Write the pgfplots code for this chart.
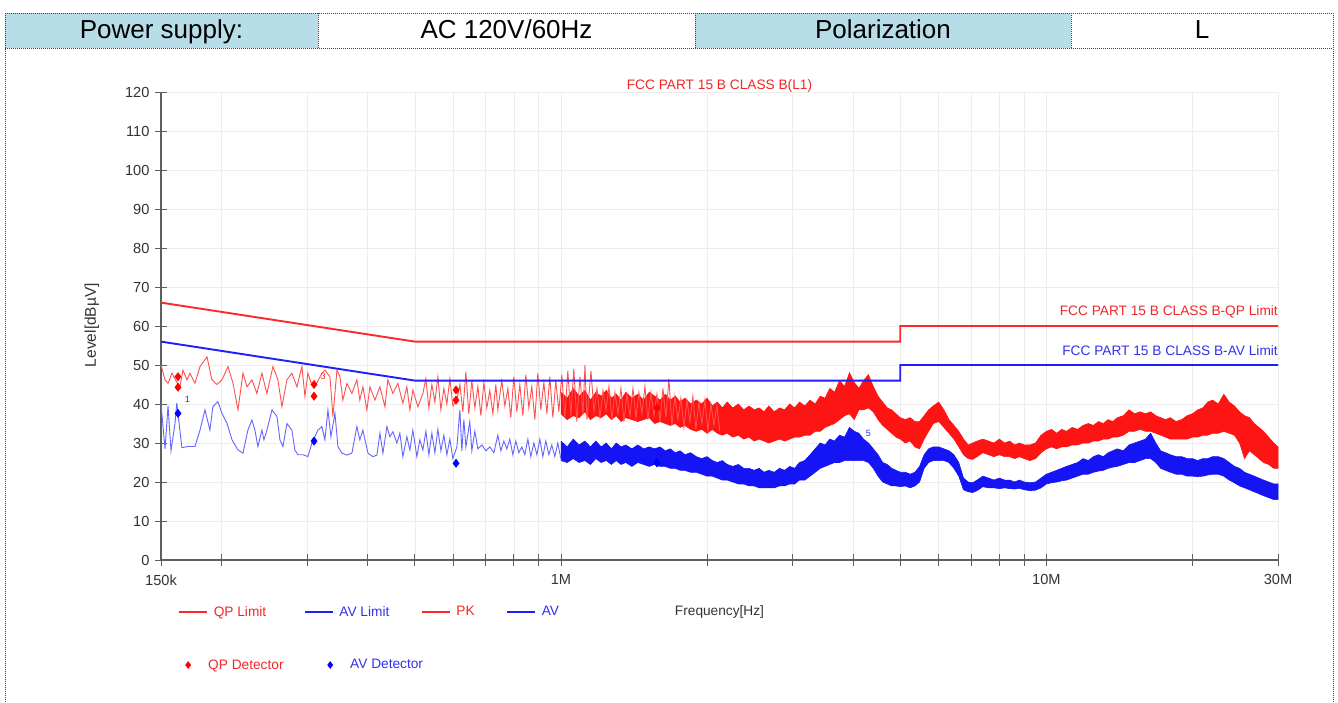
\documentclass[border=0pt]{standalone}
\usepackage{fontspec}
\setmainfont{Liberation Sans}
\usepackage{pgfplots}
\pgfplotsset{compat=1.18}
\usepackage{pgfplotstable}

\definecolor{hdrblue}{RGB}{183,221,232}
\definecolor{pkred}{RGB}{255,20,20}
\definecolor{pklow}{RGB}{255,80,80}
\definecolor{avblue}{RGB}{20,20,245}
\definecolor{avlow}{RGB}{100,100,255}
\definecolor{axgray}{RGB}{95,95,95}
\definecolor{limred}{RGB}{255,40,40}
\definecolor{limblue}{RGB}{30,30,255}
\definecolor{txtred}{RGB}{240,40,40}
\definecolor{txtblue}{RGB}{50,50,235}
\newcommand\cf{\fontsize{13.7}{16}\selectfont}
\newcommand\tf{\fontsize{14.6}{17}\selectfont}

% PK trace, low-frequency part (MHz, dBuV)
\pgfplotstableread{
f y
0.1500 50.0
0.1529 46.2
0.1551 45.3
0.1580 47.9
0.1610 46.0
0.1641 44.5
0.1665 48.7
0.1697 46.2
0.1721 47.9
0.1762 45.3
0.1805 49.6
0.1866 52.1
0.1910 46.2
0.1956 45.0
0.2003 46.2
0.2061 49.6
0.2111 45.3
0.2161 38.5
0.2213 47.9
0.2256 44.4
0.2309 46.2
0.2364 42.7
0.2421 47.9
0.2479 42.7
0.2551 49.6
0.2612 46.2
0.2662 39.3
0.2726 46.2
0.2791 47.9
0.2858 44.4
0.2927 49.6
0.2969 41.9
0.3011 47.9
0.3055 45.5
0.3128 45.0
0.3218 47.9
0.3264 48.7
0.3343 47.0
0.3391 36.8
0.3456 48.7
0.3505 47.0
0.3555 41.0
0.3623 45.3
0.3710 42.7
0.3799 46.2
0.3853 41.0
0.3909 44.4
0.3983 38.5
0.4041 44.4
0.4138 41.0
0.4237 44.4
0.4339 39.3
0.4400 46.2
0.4506 42.7
0.4614 45.3
0.4725 40.2
0.4815 44.4
0.4884 38.5
0.4954 43.6
0.5073 39.3
0.5195 42.7
0.5269 46.5
0.5345 39.0
0.5421 45.0
0.5499 40.5
0.5578 47.0
0.5658 38.5
0.5739 44.0
0.5821 40.0
0.5904 46.5
0.5989 39.5
0.6104 41.0
0.6191 45.0
0.6280 38.0
0.6370 48.2
0.6460 37.5
0.6553 46.0
0.6647 39.0
0.6743 44.5
0.6840 37.0
0.6938 45.5
0.7037 39.0
0.7137 43.5
0.7240 37.5
0.7343 45.0
0.7413 38.5
0.7555 46.0
0.7664 39.5
0.7773 44.0
0.7885 36.5
0.7998 47.0
0.8112 38.0
0.8228 45.0
0.8346 37.0
0.8466 47.5
0.8587 39.0
0.8710 44.5
0.8835 36.0
0.8962 48.0
0.9090 38.5
0.9221 45.5
0.9353 37.5
0.9486 47.0
0.9623 36.5
0.9760 46.0
0.9899 38.0
1.0041 47.5
1.0185 36.5
1.0332 48.5
1.0480 37.0
1.0630 49.0
1.0783 35.5
1.0944 47.0
1.1102 37.5
1.1207 50.0
1.1314 36.0
1.1531 48.5
1.1696 38.0
1.1864 44.0
1.2033 36.5
1.2206 43.5
1.2381 38.5
1.2557 44.5
1.2737 36.0
1.2920 43.0
1.3105 37.5
1.3293 44.0
1.3484 35.5
1.3677 42.5
1.3872 37.0
1.4072 44.0
1.4273 36.5
1.4476 43.0
1.4683 37.5
1.4894 44.5
1.5108 36.0
1.5324 43.0
1.5544 37.0
1.5767 42.5
1.5992 35.5
1.6222 44.0
1.6454 36.5
1.6689 46.5
1.6927 34.5
1.7170 42.0
1.7417 36.0
1.7666 41.5
1.7920 34.0
1.8176 41.0
1.8436 35.5
1.8701 42.0
1.8969 33.5
1.9240 40.5
1.9515 35.0
1.9795 41.0
2.0079 33.0
2.0367 40.0
2.0659 34.5
2.0955 39.5
2.1254 33.0
}\pklowtab

% AV trace, low-frequency part
\pgfplotstableread{
f y
0.1500 40.0
0.1529 28.5
0.1551 39.5
0.1573 28.0
0.1603 35.0
0.1617 40.3
0.1656 28.8
0.1705 29.1
0.1762 29.1
0.1805 33.3
0.1848 38.5
0.1892 33.3
0.1919 39.3
0.1965 40.6
0.2003 37.6
0.2052 35.0
0.2101 30.8
0.2161 28.2
0.2213 27.4
0.2265 33.3
0.2309 35.9
0.2342 33.3
0.2375 29.1
0.2421 33.3
0.2444 30.8
0.2479 33.3
0.2539 38.5
0.2600 36.8
0.2637 30.8
0.2675 29.1
0.2726 35.0
0.2791 33.3
0.2831 28.2
0.2872 27.0
0.2941 27.0
0.3011 26.5
0.3069 30.0
0.3158 33.3
0.3218 34.2
0.3264 30.8
0.3311 38.5
0.3359 31.6
0.3423 37.6
0.3472 29.1
0.3538 27.4
0.3623 26.9
0.3710 27.4
0.3799 34.2
0.3853 30.8
0.3909 33.3
0.4003 27.4
0.4099 26.5
0.4178 26.9
0.4237 32.5
0.4298 27.4
0.4380 34.2
0.4442 31.6
0.4506 32.9
0.4592 30.0
0.4658 32.5
0.4725 26.5
0.4815 31.6
0.4884 28.2
0.4954 33.3
0.5049 26.5
0.5121 30.8
0.5195 28.2
0.5269 33.0
0.5345 27.0
0.5421 32.5
0.5499 27.5
0.5578 33.5
0.5658 28.0
0.5739 32.0
0.5821 27.0
0.5904 31.0
0.5989 26.0
0.6104 29.0
0.6191 38.5
0.6250 28.0
0.6310 36.0
0.6370 29.0
0.6491 35.5
0.6553 28.0
0.6647 33.0
0.6743 28.5
0.6872 29.5
0.7004 28.0
0.7137 29.0
0.7274 27.5
0.7413 32.0
0.7520 28.0
0.7628 30.5
0.7737 28.5
0.7847 31.0
0.7960 27.0
0.8074 30.5
0.8189 27.5
0.8306 29.0
0.8425 27.0
0.8547 31.0
0.8669 26.5
0.8794 30.0
0.8920 27.0
0.9047 31.0
0.9177 26.5
0.9308 30.5
0.9441 27.0
0.9576 29.5
0.9714 26.5
0.9852 30.0
0.9994 26.0
}\avlowtab

% PK trace, dense part: upper edge (1 -> 30 MHz), then lower edge (30 -> 1 MHz)
\pgfplotstableread{
f y
1.00 43.0
1.03 41.5
1.06 44.0
1.09 42.0
1.12 43.5
1.15 41.0
1.18 43.0
1.21 42.0
1.24 43.5
1.27 41.5
1.30 42.5
1.33 41.0
1.36 43.0
1.40 41.5
1.44 42.5
1.48 41.0
1.52 43.0
1.56 42.0
1.60 41.0
1.64 42.5
1.68 41.0
1.72 42.0
1.76 40.5
1.80 41.5
1.85 40.0
1.90 41.0
1.95 40.0
2.00 41.5
2.05 39.5
2.10 40.5
2.15 39.0
2.20 40.5
2.26 39.0
2.32 40.0
2.38 38.5
2.44 39.5
2.50 38.5
2.56 39.0
2.62 38.0
2.68 39.5
2.75 38.0
2.82 39.0
2.89 38.5
2.96 40.0
3.03 39.0
3.10 40.5
3.18 39.5
3.26 41.0
3.34 40.0
3.42 42.0
3.50 41.5
3.58 44.0
3.66 43.0
3.75 46.0
3.84 44.5
3.93 48.0
4.02 45.5
4.11 44.0
4.20 46.0
4.30 47.5
4.40 44.5
4.50 42.0
4.60 40.5
4.70 39.0
4.80 38.5
4.90 37.5
5.00 36.5
5.12 36.0
5.24 36.5
5.36 35.5
5.48 35.5
5.60 37.0
5.72 38.5
5.85 39.5
6.00 40.5
6.15 38.5
6.30 36.0
6.45 34.5
6.60 33.0
6.75 31.0
6.90 29.5
7.05 30.0
7.20 30.5
7.40 31.0
7.60 30.5
7.80 30.0
8.00 31.0
8.20 30.0
8.40 30.5
8.60 29.5
8.80 30.0
9.00 29.5
9.25 29.5
9.50 30.0
9.75 32.0
10.0 33.0
10.25 33.5
10.5 32.5
10.75 33.5
11.0 33.0
11.3 34.0
11.6 33.5
11.9 34.5
12.2 35.0
12.5 34.5
12.8 35.5
13.1 35.0
13.4 36.0
13.7 35.5
14.0 36.5
14.4 37.0
14.8 38.5
15.2 37.5
15.6 38.0
16.0 37.5
16.4 38.0
16.8 37.0
17.2 36.5
17.6 36.0
18.0 36.5
18.5 35.5
19.0 36.0
19.5 37.0
20.0 37.5
20.5 38.5
21.0 39.0
21.5 40.5
22.0 41.0
22.6 40.0
23.2 42.5
23.8 40.5
24.4 39.5
25.0 38.0
25.6 37.0
26.2 36.5
26.8 35.0
27.4 34.0
28.0 33.0
28.7 31.5
29.4 30.0
30.0 29.0
30.0 23.5
29.4 23.5
28.7 24.5
28.0 25.0
27.4 26.0
26.8 27.0
26.2 28.0
25.6 26.0
25.0 30.0
24.4 32.0
23.8 32.5
23.2 33.0
22.6 32.5
22.0 32.5
21.5 32.0
21.0 32.0
20.5 31.5
20.0 31.5
19.5 31.0
19.0 31.0
18.5 31.0
18.0 31.0
17.6 31.5
17.2 32.0
16.8 32.5
16.4 33.0
16.0 33.0
15.6 33.5
15.2 33.0
14.8 33.0
14.4 32.0
14.0 31.5
13.7 31.5
13.4 31.0
13.1 31.0
12.8 30.5
12.5 30.5
12.2 30.0
11.9 30.0
11.6 29.5
11.3 29.5
11.0 29.0
10.75 29.0
10.5 28.5
10.25 29.0
10.0 28.5
9.75 27.5
9.50 26.0
9.25 25.5
9.00 26.0
8.80 26.5
8.60 26.0
8.40 26.5
8.20 26.5
8.00 27.0
7.80 26.5
7.60 27.0
7.40 27.5
7.20 26.5
7.05 25.8
6.90 26.0
6.75 27.0
6.60 29.0
6.45 31.0
6.30 32.5
6.15 34.0
6.00 35.5
5.85 35.0
5.72 33.0
5.60 31.0
5.48 28.5
5.36 29.0
5.24 30.5
5.12 30.0
5.00 31.0
4.90 31.5
4.80 32.5
4.70 33.5
4.60 34.5
4.50 36.0
4.40 38.0
4.30 39.0
4.20 38.5
4.11 38.5
4.02 36.0
3.93 37.5
3.84 37.0
3.75 36.0
3.66 35.0
3.58 34.5
3.50 34.0
3.42 33.0
3.34 33.0
3.26 32.0
3.18 32.0
3.10 31.5
3.03 31.5
2.96 31.0
2.89 30.5
2.82 31.0
2.75 30.5
2.68 30.0
2.62 30.5
2.56 31.0
2.50 30.5
2.44 31.5
2.38 31.0
2.32 32.0
2.26 31.5
2.20 32.5
2.15 32.0
2.10 32.5
2.05 33.5
2.00 32.5
1.95 33.5
1.90 33.0
1.85 33.5
1.80 34.5
1.76 34.0
1.72 35.0
1.68 34.5
1.64 35.0
1.60 35.5
1.56 35.0
1.52 36.5
1.48 36.0
1.44 35.5
1.40 36.0
1.36 36.5
1.33 35.5
1.30 37.0
1.27 36.0
1.24 37.5
1.21 36.5
1.18 37.0
1.15 36.0
1.12 38.0
1.09 36.5
1.06 37.0
1.03 36.0
1.00 37.5
}\pkband

% AV trace, dense part: upper edge, then lower edge
\pgfplotstableread{
f y
1.00 30.5
1.03 29.0
1.06 31.0
1.09 29.5
1.12 30.5
1.15 29.0
1.18 30.5
1.21 29.0
1.24 30.0
1.27 28.5
1.30 30.0
1.33 29.0
1.36 29.5
1.40 28.5
1.44 29.5
1.48 28.5
1.52 29.0
1.56 28.5
1.60 29.0
1.64 28.0
1.68 28.5
1.72 27.5
1.76 28.0
1.80 27.0
1.85 27.5
1.90 26.5
1.95 26.0
2.00 26.5
2.05 25.5
2.10 25.0
2.15 25.5
2.20 24.5
2.26 24.0
2.32 24.5
2.38 23.5
2.44 23.5
2.50 23.0
2.56 23.5
2.62 22.5
2.68 23.0
2.75 22.5
2.82 23.5
2.89 23.0
2.96 24.0
3.03 23.5
3.10 25.0
3.18 25.5
3.26 27.0
3.34 28.5
3.42 30.0
3.50 29.5
3.58 31.0
3.66 30.5
3.75 32.0
3.84 31.5
3.93 34.0
4.02 33.0
4.11 32.5
4.20 31.0
4.30 30.0
4.40 28.5
4.50 27.0
4.60 25.0
4.70 24.5
4.80 23.5
4.90 23.0
5.00 22.5
5.12 22.5
5.24 22.0
5.36 22.5
5.48 24.0
5.60 27.0
5.72 28.5
5.85 29.0
6.00 29.0
6.15 28.5
6.30 28.0
6.45 27.0
6.60 25.0
6.75 21.0
6.90 20.0
7.05 19.8
7.20 20.5
7.40 21.5
7.60 21.0
7.80 20.5
8.00 21.0
8.20 20.5
8.40 20.5
8.60 20.0
8.80 20.5
9.00 20.0
9.25 19.8
9.50 20.0
9.75 21.0
10.0 22.0
10.25 22.5
10.5 23.0
10.75 23.5
11.0 24.0
11.3 24.5
11.6 25.0
11.9 26.0
12.2 25.5
12.5 26.5
12.8 27.0
13.1 26.5
13.4 27.5
13.7 28.0
14.0 28.5
14.4 28.0
14.8 29.5
15.2 30.0
15.6 30.5
16.0 31.0
16.4 32.5
16.8 30.0
17.2 28.0
17.6 27.5
18.0 27.0
18.5 26.5
19.0 26.5
19.5 26.0
20.0 26.0
20.5 25.5
21.0 26.0
21.5 26.0
22.0 26.5
22.6 26.5
23.2 26.0
23.8 25.0
24.4 24.0
25.0 23.5
25.6 22.5
26.2 22.0
26.8 21.5
27.4 21.0
28.0 20.5
28.7 20.0
29.4 19.5
30.0 19.5
30.0 15.5
29.4 15.5
28.7 16.0
28.0 16.5
27.4 17.0
26.8 17.5
26.2 18.0
25.6 18.5
25.0 19.0
24.4 19.8
23.8 20.5
23.2 21.5
22.6 22.0
22.0 22.0
21.5 21.8
21.0 21.5
20.5 21.4
20.0 21.5
19.5 21.5
19.0 22.0
18.5 22.0
18.0 22.5
17.6 23.0
17.2 23.5
16.8 25.0
16.4 26.0
16.0 26.0
15.6 25.5
15.2 25.0
14.8 25.0
14.4 24.5
14.0 24.0
13.7 23.8
13.4 23.5
13.1 23.0
12.8 22.8
12.5 22.5
12.2 22.0
11.9 22.0
11.6 21.5
11.3 21.0
11.0 20.5
10.75 20.3
10.5 20.0
10.25 19.8
10.0 19.5
9.75 18.5
9.50 17.9
9.25 17.8
9.00 18.0
8.80 18.4
8.60 18.2
8.40 18.3
8.20 18.5
8.00 18.3
7.80 18.5
7.60 18.5
7.40 18.8
7.20 17.8
7.05 17.3
6.90 17.5
6.75 18.0
6.60 21.5
6.45 23.5
6.30 25.0
6.15 25.5
6.00 25.5
5.85 25.5
5.72 25.0
5.60 23.5
5.48 20.0
5.36 19.0
5.24 18.5
5.12 19.0
5.00 18.8
4.90 19.0
4.80 19.0
4.70 19.5
4.60 20.0
4.50 21.5
4.40 23.5
4.30 25.0
4.20 25.5
4.11 25.5
4.02 25.5
3.93 25.5
3.84 25.5
3.75 25.0
3.66 25.0
3.58 24.5
3.50 24.0
3.42 23.5
3.34 22.5
3.26 21.5
3.18 20.5
3.10 20.5
3.03 19.5
2.96 19.5
2.89 19.0
2.82 19.0
2.75 18.5
2.68 18.5
2.62 18.5
2.56 18.5
2.50 19.0
2.44 19.0
2.38 19.5
2.32 19.5
2.26 20.0
2.20 20.5
2.15 20.5
2.10 21.0
2.05 21.5
2.00 21.5
1.95 22.0
1.90 22.5
1.85 22.5
1.80 23.0
1.76 23.0
1.72 23.5
1.68 23.5
1.64 24.0
1.60 24.0
1.56 24.5
1.52 24.0
1.48 24.5
1.44 25.0
1.40 24.0
1.36 25.0
1.33 24.5
1.30 25.5
1.27 24.5
1.24 25.5
1.21 25.0
1.18 26.0
1.15 24.5
1.12 25.5
1.09 25.0
1.06 26.0
1.03 25.0
1.00 25.5
}\avband

\begin{document}
\begin{tikzpicture}[x=1pt,y=1pt]
\useasboundingbox (0,0) rectangle (1338,702);
\fill[white] (0,0) rectangle (1338,702);

% header table
\fill[hdrblue] (5,654) rectangle (318,689);
\fill[hdrblue] (695,654) rectangle (1071,689);
\begin{scope}[black!75, line width=0.8pt, dash pattern=on 1pt off 1pt]
\draw (5,689) -- (1333,689);
\draw (5,654) -- (1333,654);
\draw (5,0) -- (5,689);
\draw (1333,0) -- (1333,689);
\draw (318,654) -- (318,689);
\draw (695,654) -- (695,689);
\draw (1071,654) -- (1071,689);
\end{scope}
\begin{scope}[font=\fontsize{26}{30}\selectfont]
\node[anchor=base, inner sep=0pt] at (161.5,663) {Power supply:};
\node[anchor=base, inner sep=0pt] at (506.5,663) {AC 120V/60Hz};
\node[anchor=base, inner sep=0pt] at (883,663) {Polarization};
\node[anchor=base, inner sep=0pt] at (1202,663) {L};
\end{scope}

\begin{axis}[
  at={(161pt,142pt)}, anchor=south west,
  scale only axis, width=1117pt, height=468pt,
  xmode=log, xmin=0.15, xmax=30, ymin=0, ymax=120,
  axis x line*=bottom, axis y line*=left,
  axis line style={-, draw=axgray, line width=1.1pt},
  clip=false,
  /pgf/number format/assume math mode=true,
  xtick={0.15,1,10,30}, xticklabels={150k,1M,10M,30M},
  minor xtick={0.2,0.3,0.4,0.5,0.6,0.7,0.8,0.9,2,3,4,5,6,7,8,9,20},
  ytick={0,10,...,120},
  tick align=center, major tick length=12pt, minor tick length=12pt,
  every tick/.style={axgray, line width=0.9pt},
  grid=both,
  major grid style={black!7, line width=0.6pt},
  minor grid style={black!7, line width=0.6pt},
  tick label style={font=\tf, text=black!80},
  yticklabel style={xshift=-2pt},
  xticklabel style={yshift=-5pt},
  xlabel={Frequency[Hz]},
  xlabel style={at={(axis description cs:0.5,-0.111)}, anchor=center, font=\cf, text=black!80},
  ylabel={Level[dBµV]},
  ylabel style={at={(axis description cs:-0.0618,0.502)}, anchor=center, font=\fontsize{15.5}{18}\selectfont, text=black!80},
  title={FCC PART 15 B CLASS B(L1)},
  title style={at={(axis description cs:0.5,1.0)}, anchor=center, font=\cf, text=txtred},
  legend columns=4,
  legend style={draw=none, fill=none, inner sep=0pt, font=\cf,
    at={(0.0152,-0.111)}, anchor=west,
    nodes={inner sep=0pt},
    /tikz/every odd column/.append style={column sep=6pt},
    /tikz/every even column/.append style={column sep=31.5pt}},
  legend image code/.code={\draw[#1] (0pt,0pt) -- (28pt,0pt);},
]
% dense parts of the traces (area between upper and lower edge)
\addplot[forget plot, draw=pkred, fill=pkred, line width=0.6pt] table[x=f,y=y] {\pkband};
\addplot[forget plot, draw=avblue, fill=avblue, line width=0.6pt] table[x=f,y=y] {\avband};
% low-frequency parts of the traces
\addplot[forget plot, pklow, line width=0.9pt] table[x=f,y=y] {\pklowtab};
\addplot[forget plot, avlow, line width=0.9pt] table[x=f,y=y] {\avlowtab};
% limits
\addplot[forget plot, limred, line width=1.9pt] coordinates {(0.15,66) (0.5,56) (5,56) (5,60) (30,60)};
\addplot[forget plot, limblue, line width=1.9pt] coordinates {(0.15,56) (0.5,46) (5,46) (5,50) (30,50)};
% detector readings
\addplot[forget plot, only marks, mark=diamond*, mark size=4.2pt, color=red] coordinates {
(0.1626,47.0) (0.1626,44.3) (0.310,45.0) (0.310,42.0) (0.608,43.6) (0.608,41.0) (1.577,39.0)};
\addplot[forget plot, only marks, mark=diamond*, mark size=4.2pt, color=blue] coordinates {
(0.1626,37.6) (0.310,30.5) (0.608,24.8) (1.577,24.9)};

\node[font=\fontsize{9}{10}\selectfont, text=txtblue] at (axis cs:0.1700,41.2) {1};
\node[font=\fontsize{9}{10}\selectfont, text=txtred] at (axis cs:0.3235,47.2) {3};
\node[font=\fontsize{9}{10}\selectfont, text=txtblue] at (axis cs:4.30,32.5) {5};

\node[anchor=east, font=\cf, text=txtred, inner sep=0pt] at (axis cs:30,63.7) {FCC PART 15 B CLASS B-QP Limit};
\node[anchor=east, font=\cf, text=txtblue, inner sep=0pt] at (axis cs:30,53.8) {FCC PART 15 B CLASS B-AV Limit};

\addlegendimage{limred, line width=1.6pt}
\addlegendentry{\textcolor{txtred}{QP Limit}\kern6pt}
\addlegendimage{limblue, line width=1.6pt}
\addlegendentry{\textcolor{txtblue}{AV Limit}}
\addlegendimage{limred, line width=1.6pt}
\addlegendentry{\textcolor{txtred}{PK}}
\addlegendimage{limblue, line width=1.6pt}
\addlegendentry{\textcolor{txtblue}{AV}}
\end{axis}

% second legend row (detectors)
\begin{axis}[
  at={(161pt,142pt)}, anchor=south west,
  scale only axis, width=1117pt, height=468pt,
  xmode=log, xmin=0.15, xmax=30, ymin=0, ymax=120,
  hide axis,
  legend columns=2,
  legend style={draw=none, fill=none, inner sep=0pt, font=\cf,
    at={(0.0218,-0.2244)}, anchor=west,
    nodes={inner sep=0pt},
    /tikz/every odd column/.append style={column sep=17.4pt},
    /tikz/every even column/.append style={column sep=44pt}},
  legend image code/.code={\draw[#1,mark repeat=2,mark phase=2] plot coordinates {(0pt,0pt) (6pt,0pt) (12pt,0pt)};},
]
\addplot[forget plot, draw=none] coordinates {(0.15,0) (30,120)};
\addlegendimage{red, only marks, mark=diamond*, mark size=3.5pt}
\addlegendentry{\textcolor{txtred}{QP Detector}}
\addlegendimage{blue, only marks, mark=diamond*, mark size=3.5pt}
\addlegendentry{\textcolor{txtblue}{AV Detector}}
\end{axis}
\end{tikzpicture}
\end{document}
